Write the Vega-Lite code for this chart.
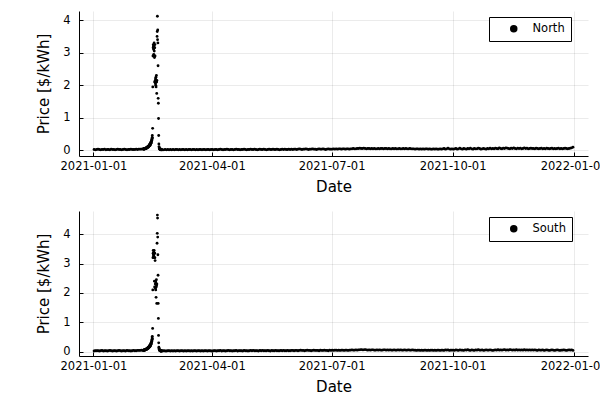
{
"$schema": "https://vega.github.io/schema/vega-lite/v6.json",
"padding": {"left": 36, "top": 11, "right": 0, "bottom": 0},
"background": "white",
"config": {
  "view": {"stroke": null},
  "font": "DejaVu Sans",
  "axis": {
    "domainColor": "black", "domainWidth": 1,
    "tickColor": "black", "tickSize": -4, "tickWidth": 1,
    "gridColor": "#000000", "gridOpacity": 0.08, "gridWidth": 1,
    "labelColor": "black", "labelFontSize": 11.5, "labelFont": "DejaVu Sans",
    "titleColor": "black", "titleFontSize": 15, "titleFont": "DejaVu Sans", "titleFontWeight": "normal"
  },
  "legend": {
    "orient": "none", "legendX": 410, "legendY": 6,
    "fillColor": "white", "strokeColor": "black", "padding": 6,
    "symbolType": "circle", "symbolFillColor": "black", "symbolStrokeColor": "black", "symbolSize": 36, "symbolOpacity": 1,
    "symbolOffset": 13, "labelOffset": 13,
    "labelFontSize": 11.5, "labelColor": "black", "labelFont": "DejaVu Sans"
  }
},
"data": {"values": [
{"t":"2021-01-01T12:00","n":0.03,"s":0.02},{"t":"2021-01-02T12:00","n":0.02,"s":0.03},{"t":"2021-01-03T12:00","n":0.03,"s":0.03},{"t":"2021-01-04T12:00","n":0.04,"s":0.03},{"t":"2021-01-05T12:00","n":0.03,"s":0.02},{"t":"2021-01-06T12:00","n":0.02,"s":0.03},{"t":"2021-01-07T12:00","n":0.03,"s":0.04},{"t":"2021-01-08T12:00","n":0.03,"s":0.02},{"t":"2021-01-09T12:00","n":0.04,"s":0.03},{"t":"2021-01-10T12:00","n":0.02,"s":0.03},
{"t":"2021-01-11T12:00","n":0.03,"s":0.02},{"t":"2021-01-12T12:00","n":0.03,"s":0.03},{"t":"2021-01-13T12:00","n":0.02,"s":0.04},{"t":"2021-01-14T12:00","n":0.04,"s":0.03},{"t":"2021-01-15T12:00","n":0.03,"s":0.02},{"t":"2021-01-16T12:00","n":0.03,"s":0.03},{"t":"2021-01-17T12:00","n":0.02,"s":0.03},{"t":"2021-01-18T12:00","n":0.03,"s":0.02},{"t":"2021-01-19T12:00","n":0.04,"s":0.03},{"t":"2021-01-20T12:00","n":0.03,"s":0.04},
{"t":"2021-01-21T12:00","n":0.03,"s":0.03},{"t":"2021-01-22T12:00","n":0.02,"s":0.02},{"t":"2021-01-23T12:00","n":0.03,"s":0.03},{"t":"2021-01-24T12:00","n":0.04,"s":0.03},{"t":"2021-01-25T12:00","n":0.03,"s":0.02},{"t":"2021-01-26T12:00","n":0.02,"s":0.04},{"t":"2021-01-27T12:00","n":0.03,"s":0.03},{"t":"2021-01-28T12:00","n":0.03,"s":0.03},{"t":"2021-01-29T12:00","n":0.04,"s":0.02},{"t":"2021-01-30T12:00","n":0.03,"s":0.03},
{"t":"2021-01-31T12:00","n":0.03,"s":0.04},
{"t":"2021-02-01T12:00","n":0.03,"s":0.03},{"t":"2021-02-02T12:00","n":0.04,"s":0.03},{"t":"2021-02-03T12:00","n":0.03,"s":0.04},{"t":"2021-02-04T12:00","n":0.04,"s":0.04},{"t":"2021-02-05T12:00","n":0.04,"s":0.04},{"t":"2021-02-06T12:00","n":0.04,"s":0.05},{"t":"2021-02-07T12:00","n":0.05,"s":0.04},
{"t":"2021-02-08T00:00","n":0.04,"s":0.05},{"t":"2021-02-08T03:00","n":0.05,"s":0.04},{"t":"2021-02-08T06:00","n":0.04,"s":0.05},{"t":"2021-02-08T09:00","n":0.05,"s":0.05},{"t":"2021-02-08T12:00","n":0.05,"s":0.06},{"t":"2021-02-08T15:00","n":0.04,"s":0.05},{"t":"2021-02-08T18:00","n":0.06,"s":0.06},{"t":"2021-02-08T21:00","n":0.05,"s":0.05},
{"t":"2021-02-09T00:00","n":0.05,"s":0.05},{"t":"2021-02-09T03:00","n":0.06,"s":0.06},{"t":"2021-02-09T06:00","n":0.05,"s":0.06},{"t":"2021-02-09T09:00","n":0.06,"s":0.07},{"t":"2021-02-09T12:00","n":0.07,"s":0.06},{"t":"2021-02-09T15:00","n":0.06,"s":0.07},{"t":"2021-02-09T18:00","n":0.07,"s":0.08},{"t":"2021-02-09T21:00","n":0.06,"s":0.07},
{"t":"2021-02-10T00:00","n":0.06,"s":0.07},{"t":"2021-02-10T03:00","n":0.07,"s":0.07},{"t":"2021-02-10T06:00","n":0.08,"s":0.08},{"t":"2021-02-10T09:00","n":0.07,"s":0.09},{"t":"2021-02-10T12:00","n":0.08,"s":0.08},{"t":"2021-02-10T15:00","n":0.09,"s":0.09},{"t":"2021-02-10T18:00","n":0.10,"s":0.11},{"t":"2021-02-10T21:00","n":0.09,"s":0.10},
{"t":"2021-02-11T00:00","n":0.08,"s":0.09},{"t":"2021-02-11T03:00","n":0.09,"s":0.10},{"t":"2021-02-11T06:00","n":0.11,"s":0.12},{"t":"2021-02-11T09:00","n":0.12,"s":0.13},{"t":"2021-02-11T12:00","n":0.10,"s":0.12},{"t":"2021-02-11T15:00","n":0.12,"s":0.13},{"t":"2021-02-11T18:00","n":0.13,"s":0.15},{"t":"2021-02-11T21:00","n":0.12,"s":0.13},
{"t":"2021-02-12T00:00","n":0.11,"s":0.12},{"t":"2021-02-12T03:00","n":0.13,"s":0.14},{"t":"2021-02-12T06:00","n":0.15,"s":0.16},{"t":"2021-02-12T09:00","n":0.16,"s":0.18},{"t":"2021-02-12T12:00","n":0.14,"s":0.15},{"t":"2021-02-12T15:00","n":0.17,"s":0.19},{"t":"2021-02-12T18:00","n":0.19,"s":0.21},{"t":"2021-02-12T21:00","n":0.16,"s":0.18},
{"t":"2021-02-13T00:00","n":0.15,"s":0.17},{"t":"2021-02-13T03:00","n":0.18,"s":0.19},{"t":"2021-02-13T06:00","n":0.21,"s":0.23},{"t":"2021-02-13T09:00","n":0.19,"s":0.21},{"t":"2021-02-13T12:00","n":0.23,"s":0.25},{"t":"2021-02-13T15:00","n":0.25,"s":0.28},{"t":"2021-02-13T18:00","n":0.22,"s":0.24},{"t":"2021-02-13T21:00","n":0.27,"s":0.30},
{"t":"2021-02-14T00:00","n":0.24,"s":0.27},{"t":"2021-02-14T03:00","n":0.28,"s":0.31},{"t":"2021-02-14T06:00","n":0.31,"s":0.35},{"t":"2021-02-14T09:00","n":0.35,"s":0.40},{"t":"2021-02-14T12:00","n":0.33,"s":0.37},{"t":"2021-02-14T15:00","n":0.40,"s":0.46},{"t":"2021-02-14T18:00","n":0.46,"s":0.52},{"t":"2021-02-14T21:00","n":0.38,"s":0.43},
{"t":"2021-02-15T00:00","n":0.68,"s":0.79},{"t":"2021-02-15T03:00","n":1.95,"s":2.10},{"t":"2021-02-15T06:00","n":2.90,"s":3.20},{"t":"2021-02-15T09:00","n":3.15,"s":3.35},{"t":"2021-02-15T12:00","n":3.25,"s":3.45},{"t":"2021-02-15T15:00","n":3.20,"s":3.30},{"t":"2021-02-15T18:00","n":3.10,"s":3.25},{"t":"2021-02-15T21:00","n":2.95,"s":3.40},
{"t":"2021-02-16T00:00","n":3.20,"s":3.30},{"t":"2021-02-16T03:00","n":3.30,"s":3.45},{"t":"2021-02-16T06:00","n":3.05,"s":3.20},{"t":"2021-02-16T09:00","n":2.85,"s":2.40},{"t":"2021-02-16T12:00","n":2.10,"s":2.20},{"t":"2021-02-16T15:00","n":3.15,"s":3.35},{"t":"2021-02-16T18:00","n":3.25,"s":3.20},{"t":"2021-02-16T21:00","n":2.90,"s":3.10},
{"t":"2021-02-17T00:00","n":2.15,"s":2.30},{"t":"2021-02-17T03:00","n":2.05,"s":2.15},{"t":"2021-02-17T06:00","n":2.20,"s":2.40},{"t":"2021-02-17T09:00","n":2.00,"s":2.10},{"t":"2021-02-17T12:00","n":2.25,"s":2.35},{"t":"2021-02-17T15:00","n":1.95,"s":1.85},{"t":"2021-02-17T18:00","n":2.10,"s":2.20},{"t":"2021-02-17T21:00","n":2.30,"s":2.45},
{"t":"2021-02-18T00:00","n":2.10,"s":2.25},{"t":"2021-02-18T03:00","n":1.75,"s":1.64},{"t":"2021-02-18T06:00","n":2.15,"s":2.30},{"t":"2021-02-18T09:00","n":3.50,"s":3.69},{"t":"2021-02-18T12:00","n":3.65,"s":4.03},{"t":"2021-02-18T15:00","n":4.12,"s":4.65},{"t":"2021-02-18T18:00","n":3.40,"s":4.55},{"t":"2021-02-18T21:00","n":3.70,"s":3.90},
{"t":"2021-02-19T00:00","n":3.30,"s":3.30},{"t":"2021-02-19T03:00","n":2.60,"s":2.60},{"t":"2021-02-19T06:00","n":1.60,"s":1.64},{"t":"2021-02-19T09:00","n":1.45,"s":1.13},{"t":"2021-02-19T12:00","n":0.98,"s":0.55},{"t":"2021-02-19T15:00","n":0.46,"s":0.30},{"t":"2021-02-19T18:00","n":0.20,"s":0.15},{"t":"2021-02-19T21:00","n":0.12,"s":0.10},
{"t":"2021-02-20T00:00","n":0.08,"s":0.09},{"t":"2021-02-20T03:00","n":0.06,"s":0.07},{"t":"2021-02-20T06:00","n":0.05,"s":0.05},{"t":"2021-02-20T09:00","n":0.04,"s":0.04},{"t":"2021-02-20T12:00","n":0.05,"s":0.05},{"t":"2021-02-20T15:00","n":0.04,"s":0.04},{"t":"2021-02-20T18:00","n":0.03,"s":0.03},{"t":"2021-02-20T21:00","n":0.04,"s":0.03},
{"t":"2021-02-21T00:00","n":0.03,"s":0.03},{"t":"2021-02-21T03:00","n":0.02,"s":0.02},{"t":"2021-02-21T06:00","n":0.03,"s":0.02},{"t":"2021-02-21T09:00","n":0.04,"s":0.03},{"t":"2021-02-21T12:00","n":0.03,"s":0.03},{"t":"2021-02-21T15:00","n":0.02,"s":0.02},{"t":"2021-02-21T18:00","n":0.03,"s":0.03},{"t":"2021-02-21T21:00","n":0.02,"s":0.02},
{"t":"2021-02-22T12:00","n":0.02,"s":0.02},{"t":"2021-02-23T12:00","n":0.02,"s":0.03},{"t":"2021-02-24T12:00","n":0.03,"s":0.02},{"t":"2021-02-25T12:00","n":0.02,"s":0.02},{"t":"2021-02-26T12:00","n":0.03,"s":0.03},{"t":"2021-02-27T12:00","n":0.02,"s":0.03},{"t":"2021-02-28T12:00","n":0.03,"s":0.02},
{"t":"2021-03-01T12:00","n":0.02,"s":0.03},{"t":"2021-03-02T12:00","n":0.03,"s":0.02},{"t":"2021-03-03T12:00","n":0.02,"s":0.03},{"t":"2021-03-04T12:00","n":0.03,"s":0.02},{"t":"2021-03-05T12:00","n":0.03,"s":0.03},{"t":"2021-03-06T12:00","n":0.02,"s":0.03},{"t":"2021-03-07T12:00","n":0.03,"s":0.02},{"t":"2021-03-08T12:00","n":0.02,"s":0.03},{"t":"2021-03-09T12:00","n":0.03,"s":0.03},{"t":"2021-03-10T12:00","n":0.03,"s":0.02},
{"t":"2021-03-11T12:00","n":0.02,"s":0.03},{"t":"2021-03-12T12:00","n":0.03,"s":0.02},{"t":"2021-03-13T12:00","n":0.02,"s":0.03},{"t":"2021-03-14T12:00","n":0.03,"s":0.03},{"t":"2021-03-15T12:00","n":0.03,"s":0.02},{"t":"2021-03-16T12:00","n":0.02,"s":0.03},{"t":"2021-03-17T12:00","n":0.03,"s":0.02},{"t":"2021-03-18T12:00","n":0.03,"s":0.03},{"t":"2021-03-19T12:00","n":0.02,"s":0.03},{"t":"2021-03-20T12:00","n":0.03,"s":0.02},
{"t":"2021-03-21T12:00","n":0.02,"s":0.03},{"t":"2021-03-22T12:00","n":0.03,"s":0.03},{"t":"2021-03-23T12:00","n":0.03,"s":0.02},{"t":"2021-03-24T12:00","n":0.02,"s":0.03},{"t":"2021-03-25T12:00","n":0.03,"s":0.02},{"t":"2021-03-26T12:00","n":0.03,"s":0.03},{"t":"2021-03-27T12:00","n":0.02,"s":0.03},{"t":"2021-03-28T12:00","n":0.03,"s":0.02},{"t":"2021-03-29T12:00","n":0.03,"s":0.03},{"t":"2021-03-30T12:00","n":0.02,"s":0.03},
{"t":"2021-03-31T12:00","n":0.03,"s":0.02},
{"t":"2021-04-01T12:00","n":0.03,"s":0.02},{"t":"2021-04-02T12:00","n":0.02,"s":0.03},{"t":"2021-04-03T12:00","n":0.03,"s":0.03},{"t":"2021-04-04T12:00","n":0.03,"s":0.02},{"t":"2021-04-05T12:00","n":0.02,"s":0.03},{"t":"2021-04-06T12:00","n":0.03,"s":0.03},{"t":"2021-04-07T12:00","n":0.04,"s":0.04},{"t":"2021-04-08T12:00","n":0.03,"s":0.02},{"t":"2021-04-09T12:00","n":0.02,"s":0.03},{"t":"2021-04-10T12:00","n":0.03,"s":0.03},
{"t":"2021-04-11T12:00","n":0.03,"s":0.02},{"t":"2021-04-12T12:00","n":0.04,"s":0.03},{"t":"2021-04-13T12:00","n":0.03,"s":0.04},{"t":"2021-04-14T12:00","n":0.02,"s":0.03},{"t":"2021-04-15T12:00","n":0.03,"s":0.03},{"t":"2021-04-16T12:00","n":0.03,"s":0.02},{"t":"2021-04-17T12:00","n":0.02,"s":0.03},{"t":"2021-04-18T12:00","n":0.03,"s":0.03},{"t":"2021-04-19T12:00","n":0.04,"s":0.04},{"t":"2021-04-20T12:00","n":0.03,"s":0.02},
{"t":"2021-04-21T12:00","n":0.03,"s":0.03},{"t":"2021-04-22T12:00","n":0.02,"s":0.03},{"t":"2021-04-23T12:00","n":0.03,"s":0.03},{"t":"2021-04-24T12:00","n":0.03,"s":0.02},{"t":"2021-04-25T12:00","n":0.04,"s":0.04},{"t":"2021-04-26T12:00","n":0.03,"s":0.03},{"t":"2021-04-27T12:00","n":0.02,"s":0.03},{"t":"2021-04-28T12:00","n":0.03,"s":0.02},{"t":"2021-04-29T12:00","n":0.03,"s":0.03},{"t":"2021-04-30T12:00","n":0.04,"s":0.04},
{"t":"2021-05-01T12:00","n":0.03,"s":0.03},{"t":"2021-05-02T12:00","n":0.03,"s":0.04},{"t":"2021-05-03T12:00","n":0.04,"s":0.03},{"t":"2021-05-04T12:00","n":0.03,"s":0.03},{"t":"2021-05-05T12:00","n":0.02,"s":0.03},{"t":"2021-05-06T12:00","n":0.03,"s":0.02},{"t":"2021-05-07T12:00","n":0.04,"s":0.04},{"t":"2021-05-08T12:00","n":0.03,"s":0.03},{"t":"2021-05-09T12:00","n":0.03,"s":0.04},{"t":"2021-05-10T12:00","n":0.04,"s":0.03},
{"t":"2021-05-11T12:00","n":0.03,"s":0.03},{"t":"2021-05-12T12:00","n":0.02,"s":0.03},{"t":"2021-05-13T12:00","n":0.03,"s":0.04},{"t":"2021-05-14T12:00","n":0.04,"s":0.03},{"t":"2021-05-15T12:00","n":0.03,"s":0.02},{"t":"2021-05-16T12:00","n":0.03,"s":0.04},{"t":"2021-05-17T12:00","n":0.04,"s":0.03},{"t":"2021-05-18T12:00","n":0.03,"s":0.03},{"t":"2021-05-19T12:00","n":0.03,"s":0.04},{"t":"2021-05-20T12:00","n":0.04,"s":0.03},
{"t":"2021-05-21T12:00","n":0.03,"s":0.03},{"t":"2021-05-22T12:00","n":0.02,"s":0.03},{"t":"2021-05-23T12:00","n":0.03,"s":0.04},{"t":"2021-05-24T12:00","n":0.04,"s":0.03},{"t":"2021-05-25T12:00","n":0.03,"s":0.04},{"t":"2021-05-26T12:00","n":0.04,"s":0.03},{"t":"2021-05-27T12:00","n":0.03,"s":0.03},{"t":"2021-05-28T12:00","n":0.03,"s":0.04},{"t":"2021-05-29T12:00","n":0.04,"s":0.03},{"t":"2021-05-30T12:00","n":0.03,"s":0.03},
{"t":"2021-05-31T12:00","n":0.04,"s":0.04},
{"t":"2021-06-01T12:00","n":0.03,"s":0.04},{"t":"2021-06-02T12:00","n":0.04,"s":0.03},{"t":"2021-06-03T12:00","n":0.04,"s":0.04},{"t":"2021-06-04T12:00","n":0.03,"s":0.04},{"t":"2021-06-05T12:00","n":0.04,"s":0.03},{"t":"2021-06-06T12:00","n":0.05,"s":0.04},{"t":"2021-06-07T12:00","n":0.04,"s":0.05},{"t":"2021-06-08T12:00","n":0.03,"s":0.04},{"t":"2021-06-09T12:00","n":0.04,"s":0.04},{"t":"2021-06-10T12:00","n":0.04,"s":0.03},
{"t":"2021-06-11T12:00","n":0.05,"s":0.04},{"t":"2021-06-12T12:00","n":0.04,"s":0.05},{"t":"2021-06-13T12:00","n":0.03,"s":0.04},{"t":"2021-06-14T12:00","n":0.04,"s":0.04},{"t":"2021-06-15T12:00","n":0.04,"s":0.03},{"t":"2021-06-16T12:00","n":0.05,"s":0.04},{"t":"2021-06-17T12:00","n":0.04,"s":0.05},{"t":"2021-06-18T12:00","n":0.04,"s":0.04},{"t":"2021-06-19T12:00","n":0.03,"s":0.04},{"t":"2021-06-20T12:00","n":0.04,"s":0.04},
{"t":"2021-06-21T12:00","n":0.05,"s":0.03},{"t":"2021-06-22T12:00","n":0.04,"s":0.05},{"t":"2021-06-23T12:00","n":0.04,"s":0.04},{"t":"2021-06-24T12:00","n":0.05,"s":0.04},{"t":"2021-06-25T12:00","n":0.04,"s":0.05},{"t":"2021-06-26T12:00","n":0.03,"s":0.04},{"t":"2021-06-27T12:00","n":0.04,"s":0.04},{"t":"2021-06-28T12:00","n":0.05,"s":0.03},{"t":"2021-06-29T12:00","n":0.04,"s":0.05},{"t":"2021-06-30T12:00","n":0.04,"s":0.04},
{"t":"2021-07-01T12:00","n":0.04,"s":0.05},{"t":"2021-07-02T12:00","n":0.05,"s":0.04},{"t":"2021-07-03T12:00","n":0.04,"s":0.05},{"t":"2021-07-04T12:00","n":0.05,"s":0.05},{"t":"2021-07-05T12:00","n":0.04,"s":0.04},{"t":"2021-07-06T12:00","n":0.05,"s":0.05},{"t":"2021-07-07T12:00","n":0.05,"s":0.04},{"t":"2021-07-08T12:00","n":0.04,"s":0.05},{"t":"2021-07-09T12:00","n":0.05,"s":0.05},{"t":"2021-07-10T12:00","n":0.05,"s":0.04},
{"t":"2021-07-11T12:00","n":0.04,"s":0.05},{"t":"2021-07-12T12:00","n":0.05,"s":0.05},{"t":"2021-07-13T12:00","n":0.05,"s":0.04},{"t":"2021-07-14T12:00","n":0.04,"s":0.05},{"t":"2021-07-15T12:00","n":0.05,"s":0.05},{"t":"2021-07-16T12:00","n":0.05,"s":0.06},{"t":"2021-07-17T12:00","n":0.06,"s":0.05},{"t":"2021-07-18T12:00","n":0.05,"s":0.05},{"t":"2021-07-19T12:00","n":0.05,"s":0.06},{"t":"2021-07-20T12:00","n":0.06,"s":0.05},
{"t":"2021-07-21T12:00","n":0.06,"s":0.06},{"t":"2021-07-22T12:00","n":0.07,"s":0.06},{"t":"2021-07-23T12:00","n":0.06,"s":0.07},{"t":"2021-07-24T12:00","n":0.06,"s":0.06},{"t":"2021-07-25T12:00","n":0.07,"s":0.06},{"t":"2021-07-26T12:00","n":0.06,"s":0.07},{"t":"2021-07-27T12:00","n":0.05,"s":0.06},{"t":"2021-07-28T12:00","n":0.06,"s":0.05},{"t":"2021-07-29T12:00","n":0.06,"s":0.06},{"t":"2021-07-30T12:00","n":0.05,"s":0.05},
{"t":"2021-07-31T12:00","n":0.06,"s":0.06},
{"t":"2021-08-01T12:00","n":0.05,"s":0.06},{"t":"2021-08-02T12:00","n":0.06,"s":0.05},{"t":"2021-08-03T12:00","n":0.05,"s":0.05},{"t":"2021-08-04T12:00","n":0.05,"s":0.06},{"t":"2021-08-05T12:00","n":0.06,"s":0.05},{"t":"2021-08-06T12:00","n":0.05,"s":0.06},{"t":"2021-08-07T12:00","n":0.06,"s":0.05},{"t":"2021-08-08T12:00","n":0.06,"s":0.05},{"t":"2021-08-09T12:00","n":0.05,"s":0.06},{"t":"2021-08-10T12:00","n":0.06,"s":0.06},
{"t":"2021-08-11T12:00","n":0.06,"s":0.05},{"t":"2021-08-12T12:00","n":0.05,"s":0.06},{"t":"2021-08-13T12:00","n":0.06,"s":0.05},{"t":"2021-08-14T12:00","n":0.05,"s":0.06},{"t":"2021-08-15T12:00","n":0.05,"s":0.05},{"t":"2021-08-16T12:00","n":0.06,"s":0.05},{"t":"2021-08-17T12:00","n":0.05,"s":0.06},{"t":"2021-08-18T12:00","n":0.06,"s":0.05},{"t":"2021-08-19T12:00","n":0.05,"s":0.05},{"t":"2021-08-20T12:00","n":0.05,"s":0.06},
{"t":"2021-08-21T12:00","n":0.06,"s":0.05},{"t":"2021-08-22T12:00","n":0.05,"s":0.06},{"t":"2021-08-23T12:00","n":0.05,"s":0.05},{"t":"2021-08-24T12:00","n":0.06,"s":0.05},{"t":"2021-08-25T12:00","n":0.05,"s":0.06},{"t":"2021-08-26T12:00","n":0.06,"s":0.05},{"t":"2021-08-27T12:00","n":0.05,"s":0.05},{"t":"2021-08-28T12:00","n":0.05,"s":0.06},{"t":"2021-08-29T12:00","n":0.06,"s":0.05},{"t":"2021-08-30T12:00","n":0.05,"s":0.05},
{"t":"2021-08-31T12:00","n":0.05,"s":0.06},
{"t":"2021-09-01T12:00","n":0.05,"s":0.05},{"t":"2021-09-02T12:00","n":0.04,"s":0.05},{"t":"2021-09-03T12:00","n":0.05,"s":0.04},{"t":"2021-09-04T12:00","n":0.05,"s":0.05},{"t":"2021-09-05T12:00","n":0.04,"s":0.05},{"t":"2021-09-06T12:00","n":0.05,"s":0.04},{"t":"2021-09-07T12:00","n":0.04,"s":0.05},{"t":"2021-09-08T12:00","n":0.05,"s":0.04},{"t":"2021-09-09T12:00","n":0.04,"s":0.05},{"t":"2021-09-10T12:00","n":0.05,"s":0.05},
{"t":"2021-09-11T12:00","n":0.05,"s":0.04},{"t":"2021-09-12T12:00","n":0.04,"s":0.05},{"t":"2021-09-13T12:00","n":0.05,"s":0.04},{"t":"2021-09-14T12:00","n":0.04,"s":0.05},{"t":"2021-09-15T12:00","n":0.04,"s":0.05},{"t":"2021-09-16T12:00","n":0.05,"s":0.04},{"t":"2021-09-17T12:00","n":0.04,"s":0.05},{"t":"2021-09-18T12:00","n":0.05,"s":0.04},{"t":"2021-09-19T12:00","n":0.04,"s":0.05},{"t":"2021-09-20T12:00","n":0.04,"s":0.05},
{"t":"2021-09-21T12:00","n":0.05,"s":0.04},{"t":"2021-09-22T12:00","n":0.04,"s":0.05},{"t":"2021-09-23T12:00","n":0.05,"s":0.05},{"t":"2021-09-24T12:00","n":0.06,"s":0.04},{"t":"2021-09-25T12:00","n":0.04,"s":0.06},{"t":"2021-09-26T12:00","n":0.05,"s":0.05},{"t":"2021-09-27T12:00","n":0.07,"s":0.06},{"t":"2021-09-28T12:00","n":0.05,"s":0.04},{"t":"2021-09-29T12:00","n":0.04,"s":0.05},{"t":"2021-09-30T12:00","n":0.05,"s":0.05},
{"t":"2021-10-01T12:00","n":0.04,"s":0.05},{"t":"2021-10-02T12:00","n":0.05,"s":0.04},{"t":"2021-10-03T12:00","n":0.06,"s":0.06},{"t":"2021-10-04T12:00","n":0.04,"s":0.05},{"t":"2021-10-05T12:00","n":0.05,"s":0.04},{"t":"2021-10-06T12:00","n":0.07,"s":0.06},{"t":"2021-10-07T12:00","n":0.05,"s":0.05},{"t":"2021-10-08T12:00","n":0.04,"s":0.05},{"t":"2021-10-09T12:00","n":0.06,"s":0.04},{"t":"2021-10-10T12:00","n":0.05,"s":0.06},
{"t":"2021-10-11T12:00","n":0.04,"s":0.05},{"t":"2021-10-12T12:00","n":0.06,"s":0.07},{"t":"2021-10-13T12:00","n":0.05,"s":0.05},{"t":"2021-10-14T12:00","n":0.07,"s":0.04},{"t":"2021-10-15T12:00","n":0.05,"s":0.06},{"t":"2021-10-16T12:00","n":0.04,"s":0.05},{"t":"2021-10-17T12:00","n":0.06,"s":0.04},{"t":"2021-10-18T12:00","n":0.05,"s":0.06},{"t":"2021-10-19T12:00","n":0.05,"s":0.05},{"t":"2021-10-20T12:00","n":0.07,"s":0.07},
{"t":"2021-10-21T12:00","n":0.06,"s":0.05},{"t":"2021-10-22T12:00","n":0.04,"s":0.05},{"t":"2021-10-23T12:00","n":0.05,"s":0.06},{"t":"2021-10-24T12:00","n":0.06,"s":0.04},{"t":"2021-10-25T12:00","n":0.05,"s":0.05},{"t":"2021-10-26T12:00","n":0.04,"s":0.06},{"t":"2021-10-27T12:00","n":0.06,"s":0.05},{"t":"2021-10-28T12:00","n":0.05,"s":0.05},{"t":"2021-10-29T12:00","n":0.07,"s":0.06},{"t":"2021-10-30T12:00","n":0.05,"s":0.05},
{"t":"2021-10-31T12:00","n":0.06,"s":0.04},
{"t":"2021-11-01T12:00","n":0.05,"s":0.05},{"t":"2021-11-02T12:00","n":0.07,"s":0.06},{"t":"2021-11-03T12:00","n":0.06,"s":0.05},{"t":"2021-11-04T12:00","n":0.05,"s":0.07},{"t":"2021-11-05T12:00","n":0.08,"s":0.05},{"t":"2021-11-06T12:00","n":0.06,"s":0.06},{"t":"2021-11-07T12:00","n":0.05,"s":0.05},{"t":"2021-11-08T12:00","n":0.07,"s":0.06},{"t":"2021-11-09T12:00","n":0.06,"s":0.07},{"t":"2021-11-10T12:00","n":0.08,"s":0.05},
{"t":"2021-11-11T12:00","n":0.07,"s":0.06},{"t":"2021-11-12T12:00","n":0.06,"s":0.05},{"t":"2021-11-13T12:00","n":0.05,"s":0.07},{"t":"2021-11-14T12:00","n":0.07,"s":0.06},{"t":"2021-11-15T12:00","n":0.06,"s":0.05},{"t":"2021-11-16T12:00","n":0.08,"s":0.06},{"t":"2021-11-17T12:00","n":0.06,"s":0.05},{"t":"2021-11-18T12:00","n":0.05,"s":0.07},{"t":"2021-11-19T12:00","n":0.07,"s":0.05},{"t":"2021-11-20T12:00","n":0.06,"s":0.06},
{"t":"2021-11-21T12:00","n":0.07,"s":0.05},{"t":"2021-11-22T12:00","n":0.05,"s":0.06},{"t":"2021-11-23T12:00","n":0.06,"s":0.05},{"t":"2021-11-24T12:00","n":0.08,"s":0.07},{"t":"2021-11-25T12:00","n":0.06,"s":0.05},{"t":"2021-11-26T12:00","n":0.07,"s":0.06},{"t":"2021-11-27T12:00","n":0.05,"s":0.05},{"t":"2021-11-28T12:00","n":0.06,"s":0.06},{"t":"2021-11-29T12:00","n":0.07,"s":0.05},{"t":"2021-11-30T12:00","n":0.06,"s":0.06},
{"t":"2021-12-01T12:00","n":0.06,"s":0.05},{"t":"2021-12-02T12:00","n":0.05,"s":0.06},{"t":"2021-12-03T12:00","n":0.07,"s":0.05},{"t":"2021-12-04T12:00","n":0.06,"s":0.04},{"t":"2021-12-05T12:00","n":0.05,"s":0.06},{"t":"2021-12-06T12:00","n":0.06,"s":0.05},{"t":"2021-12-07T12:00","n":0.07,"s":0.05},{"t":"2021-12-08T12:00","n":0.05,"s":0.06},{"t":"2021-12-09T12:00","n":0.06,"s":0.04},{"t":"2021-12-10T12:00","n":0.05,"s":0.05},
{"t":"2021-12-11T12:00","n":0.07,"s":0.06},{"t":"2021-12-12T12:00","n":0.06,"s":0.05},{"t":"2021-12-13T12:00","n":0.05,"s":0.04},{"t":"2021-12-14T12:00","n":0.06,"s":0.05},{"t":"2021-12-15T12:00","n":0.07,"s":0.06},{"t":"2021-12-16T12:00","n":0.05,"s":0.05},{"t":"2021-12-17T12:00","n":0.06,"s":0.04},{"t":"2021-12-18T12:00","n":0.05,"s":0.05},{"t":"2021-12-19T12:00","n":0.06,"s":0.06},{"t":"2021-12-20T12:00","n":0.07,"s":0.05},
{"t":"2021-12-21T12:00","n":0.05,"s":0.04},{"t":"2021-12-22T12:00","n":0.06,"s":0.05},{"t":"2021-12-23T12:00","n":0.05,"s":0.05},{"t":"2021-12-24T12:00","n":0.06,"s":0.06},{"t":"2021-12-25T12:00","n":0.07,"s":0.05},{"t":"2021-12-26T12:00","n":0.06,"s":0.04},{"t":"2021-12-27T12:00","n":0.05,"s":0.05},{"t":"2021-12-28T12:00","n":0.06,"s":0.06},{"t":"2021-12-29T12:00","n":0.07,"s":0.05},{"t":"2021-12-30T12:00","n":0.08,"s":0.06},
{"t":"2021-12-31T12:00","n":0.10,"s":0.04}
]},
"spacing": 16,
"resolve": {"scale": {"x": "independent", "y": "independent", "color": "independent"}, "legend": {"color": "independent"}},
"vconcat": [
  {
    "width": 509, "height": 145,
    "mark": {"type": "circle", "size": 8, "opacity": 1},
    "encoding": {
      "x": {"field": "t", "type": "temporal", "title": "Date",
        "scale": {"domain": [{"year": 2020, "month": 12, "date": 21, "hours": 1}, {"year": 2022, "month": 1, "date": 11, "hours": 22}], "nice": false},
        "axis": {"format": "%Y-%m-%d", "labelPadding": 8, "titlePadding": 8,
          "values": [{"year": 2021, "month": 1, "date": 1}, {"year": 2021, "month": 4, "date": 1}, {"year": 2021, "month": 7, "date": 1}, {"year": 2021, "month": 10, "date": 1}, {"year": 2022, "month": 1, "date": 1}]}},
      "y": {"field": "n", "type": "quantitative", "title": "Price [$/kWh]",
        "scale": {"domain": [-0.17, 4.28], "nice": false, "zero": false},
        "axis": {"values": [0, 1, 2, 3, 4], "labelPadding": 13, "titlePadding": 11}},
      "color": {"datum": "North", "type": "nominal", "scale": {"range": ["black"]}, "legend": {"title": null}}
    }
  },
  {
    "width": 509, "height": 145,
    "mark": {"type": "circle", "size": 8, "opacity": 1},
    "encoding": {
      "x": {"field": "t", "type": "temporal", "title": "Date",
        "scale": {"domain": [{"year": 2020, "month": 12, "date": 21, "hours": 1}, {"year": 2022, "month": 1, "date": 11, "hours": 22}], "nice": false},
        "axis": {"format": "%Y-%m-%d", "labelPadding": 8, "titlePadding": 8,
          "values": [{"year": 2021, "month": 1, "date": 1}, {"year": 2021, "month": 4, "date": 1}, {"year": 2021, "month": 7, "date": 1}, {"year": 2021, "month": 10, "date": 1}, {"year": 2022, "month": 1, "date": 1}]}},
      "y": {"field": "s", "type": "quantitative", "title": "Price [$/kWh]",
        "scale": {"domain": [-0.15, 4.79], "nice": false, "zero": false},
        "axis": {"values": [0, 1, 2, 3, 4], "labelPadding": 13, "titlePadding": 11}},
      "color": {"datum": "South", "type": "nominal", "scale": {"range": ["black"]}, "legend": {"title": null}}
    }
  }
]
}
